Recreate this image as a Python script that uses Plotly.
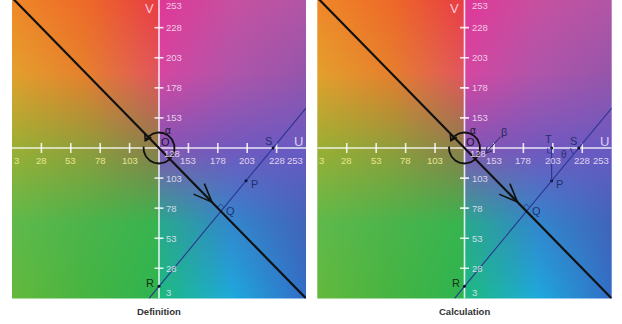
import base64
import struct
import zlib

import numpy as np
import plotly.graph_objects as go

# ---------------- data ----------------
U_RANGE = [3, 253]
V_RANGE = [3, 251]
TICK_VALUES = [3, 28, 53, 78, 103, 128, 153, 178, 203, 228, 253]
TICK_LABELS = ["3", "28", "53", "78", "103", "128", "153", "178", "203", "228", "253"]
ORIGIN = (128, 128)
BLACK_LINE_U = [3, 253]
BLACK_LINE_V = [253, 3]
R_POINT = (128, 13)
S_POINT = (225, 128)
P_U = 202
ARROW_TIP_U = 173
PANEL_TITLES = ["Definition", "Calculation"]

# background colour control grid
GRID_V = [3, 65, 128, 190, 253]
LEFT_U = [3, 65, 128]
RIGHT_U = [128, 190, 253]
LEFT_RGB = [
    [(100, 185, 60), (70, 180, 65), (45, 180, 80)],
    [(95, 185, 75), (75, 180, 75), (55, 180, 80)],
    [(155, 175, 52), (145, 158, 58), (140, 125, 75)],
    [(228, 160, 45), (230, 128, 45), (225, 85, 95)],
    [(240, 135, 40), (238, 105, 40), (232, 60, 68)],
]
RIGHT_RGB = [
    [(30, 185, 125), (30, 170, 220), (50, 110, 200)],
    [(40, 170, 140), (50, 135, 205), (65, 100, 185)],
    [(135, 85, 180), (115, 88, 190), (105, 90, 195)],
    [(215, 70, 160), (175, 85, 170), (150, 85, 170)],
    [(225, 55, 150), (200, 80, 160), (180, 85, 165)],
]

# ---------------- geometry ----------------
FIG_W, FIG_H = 622, 324
PANEL_PX = [(12.0, 306.0), (317.3, 611.7)]
PLOT_BOTTOM_PX = 298.4
PX_U = (PANEL_PX[0][1] - PANEL_PX[0][0]) / (U_RANGE[1] - U_RANGE[0])
PX_V = PLOT_BOTTOM_PX / (V_RANGE[1] - V_RANGE[0])


def off(pt, dx, dy):
    return (pt[0] + dx / PX_U, pt[1] + dy / PX_V)


def arrow_head(tip, d, length, ang_deg):
    d = np.array(d, float)
    d = d / np.hypot(*d)
    b = -d
    pts = []
    for s in (1, -1):
        a = np.radians(ang_deg) * s
        w = (np.cos(a) * b[0] - np.sin(a) * b[1], np.sin(a) * b[0] + np.cos(a) * b[1])
        pts.append(off(tip, length * w[0], length * w[1]))
    return [pts[0][0], tip[0], pts[1][0]], [pts[0][1], tip[1], pts[1][1]]


# derived points
slope_blue = (S_POINT[1] - R_POINT[1]) / (S_POINT[0] - R_POINT[0])
q_u = (256 - R_POINT[1] + slope_blue * R_POINT[0]) / (1 + slope_blue)
Q_POINT = (q_u, 256 - q_u)
P_POINT = (P_U, R_POINT[1] + slope_blue * (P_U - R_POINT[0]))
T_POINT = (P_U, 128)
BLUE_U = [R_POINT[0] - (R_POINT[1] - 3) / slope_blue, 253]
BLUE_V = [3, R_POINT[1] + slope_blue * (253 - R_POINT[0])]

# ---------------- background image (UV colour plane) ----------------
us = np.arange(3, 254)
vs = np.arange(3, 254)


def half(ctrl_u, ctrl_rgb, u_sel):
    ctrl = np.array(ctrl_rgb, float)
    col = np.empty((len(vs), len(ctrl_u), 3))
    for j in range(len(ctrl_u)):
        for c in range(3):
            col[:, j, c] = np.interp(vs, GRID_V, ctrl[:, j, c])
    out = np.empty((len(vs), len(u_sel), 3))
    for i in range(len(vs)):
        for c in range(3):
            out[i, :, c] = np.interp(u_sel, ctrl_u, col[i, :, c])
    return out


img = np.concatenate([half(LEFT_U, LEFT_RGB, us[us < 128]),
                      half(RIGHT_U, RIGHT_RGB, us[us >= 128])], axis=1)
img = np.clip(np.round(img), 0, 255).astype(np.uint8)[::-1]  # top row first


def png_data_uri(arr):
    h, w, _ = arr.shape
    raw = b"".join(b"\x00" + arr[i].tobytes() for i in range(h))

    def chunk(t, d):
        return struct.pack(">I", len(d)) + t + d + struct.pack(">I", zlib.crc32(t + d) & 0xFFFFFFFF)

    data = (b"\x89PNG\r\n\x1a\n"
            + chunk(b"IHDR", struct.pack(">IIBBBBB", w, h, 8, 2, 0, 0, 0))
            + chunk(b"IDAT", zlib.compress(raw, 9))
            + chunk(b"IEND", b""))
    return "data:image/png;base64," + base64.b64encode(data).decode()


BG_SOURCE = png_data_uri(img)

fig = go.Figure()
annotations = []
images = []
DARK = "#151530"
NAVY = "#23306e"
AXIS_WHITE = "rgba(255,255,255,0.85)"

for k in range(2):
    xa = "x" if k == 0 else "x2"
    ya = "y" if k == 0 else "y2"

    def line(u, v, color, width, dash=None):
        fig.add_trace(go.Scatter(x=u, y=v, mode="lines", xaxis=xa, yaxis=ya,
                                 line=dict(color=color, width=width, dash=dash),
                                 hoverinfo="skip", showlegend=False))

    def label(u, v, text, color, size, dx=0, dy=0, xanchor="center"):
        annotations.append(dict(x=u, y=v, xref=xa, yref=ya, text=text,
                                showarrow=False, xanchor=xanchor, yanchor="middle",
                                xshift=dx, yshift=dy,
                                font=dict(family="Liberation Sans, Arial", size=size, color=color)))

    images.append(dict(source=BG_SOURCE, xref=xa, yref=ya, x=2.5, y=253.5,
                       sizex=251, sizey=251, sizing="stretch", xanchor="left", yanchor="top",
                       layer="below"))

    # axes
    line(U_RANGE, [128, 128], AXIS_WHITE, 1.6)
    line([128, 128], [3, 253], AXIS_WHITE, 1.6)
    for t in TICK_VALUES:
        if t in (3, 128, 253):
            continue
        a, b = off((t, 128), 0, -5), off((t, 128), 0, 5)
        line([a[0], b[0]], [a[1], b[1]], AXIS_WHITE, 1.6)
        a, b = off((128, t), -4.5, 0), off((128, t), 4.5, 0)
        line([a[0], b[0]], [a[1], b[1]], AXIS_WHITE, 1.6)

    # tick labels
    for t, lab in zip(TICK_VALUES, TICK_LABELS):
        col = "#e6e68e" if t < 128 else "rgba(255,236,250,0.82)"
        if t == 128:
            label(128, 128, lab, col, 9.5, dx=3, dy=-5, xanchor="left")
        elif t == 3:
            label(3, 128, lab, col, 9.5, dx=0, dy=-12, xanchor="left")
        elif t == 253:
            label(253, 128, lab, col, 9.5, dx=-1, dy=-12, xanchor="right")
        else:
            label(t, 128, lab, col, 9.5, dy=-12)
        vcol = "rgba(255,240,255,0.78)"
        if t == 253:
            label(128, V_RANGE[1], lab, vcol, 9.5, dx=5, dy=-5, xanchor="left")
        elif t == 3:
            label(128, 3, lab, vcol, 9.5, dx=5, dy=6, xanchor="left")
        elif t != 128:
            label(128, t, lab, vcol, 9.5, dx=5, xanchor="left")
    label(247, 128, "U", "rgba(255,225,250,0.85)", 13, dy=7)
    label(119.5, V_RANGE[1], "V", "rgba(255,225,250,0.85)", 13, dy=-8)

    # blue line
    line(BLUE_U, BLUE_V, "#2a3590", 1.1)
    # right-angle marker at Q
    d1 = np.array([-PX_U, PX_V]); d1 /= np.hypot(*d1)
    d2 = np.array([PX_U, slope_blue * PX_V]); d2 /= np.hypot(*d2)
    m1 = off(Q_POINT, 5 * d1[0], 5 * d1[1])
    m2 = off(Q_POINT, 5 * (d1[0] + d2[0]), 5 * (d1[1] + d2[1]))
    m3 = off(Q_POINT, 5 * d2[0], 5 * d2[1])
    line([m1[0], m2[0], m3[0]], [m1[1], m2[1], m3[1]], "#2a3590", 0.8)

    # black line and arrowhead
    line(BLACK_LINE_U, BLACK_LINE_V, "#111111", 2.2)
    tip = (ARROW_TIP_U, 256 - ARROW_TIP_U)
    hu, hv = arrow_head(tip, (PX_U, -PX_V), 20, 22)
    line(hu, hv, "#111111", 1.6)

    # circle arrow around O
    r = 15.5
    tt = np.radians(np.linspace(175, 512, 120))
    line(list(ORIGIN[0] + r * np.cos(tt) / PX_U), list(ORIGIN[1] + r * np.sin(tt) / PX_V), "#111111", 1.8)
    te = tt[-1]
    tip_c = off(ORIGIN, r * np.cos(te), r * np.sin(te))
    hu, hv = arrow_head(tip_c, (-np.sin(te), np.cos(te)), 7, 32)
    line(hu, hv, "#111111", 1.6)

    # points
    pts = [S_POINT, P_POINT, R_POINT] + ([T_POINT] if k == 1 else [])
    fig.add_trace(go.Scatter(x=[p[0] for p in pts], y=[p[1] for p in pts], mode="markers",
                             xaxis=xa, yaxis=ya, marker=dict(size=3, color="#101030"),
                             hoverinfo="skip", showlegend=False))

    # point labels
    label(*ORIGIN, "O", DARK, 11, dx=6, dy=6)
    label(*ORIGIN, "α", DARK, 10, dx=8.5, dy=18)
    label(*S_POINT, "S", NAVY, 11, dx=-5, dy=7)
    label(*P_POINT, "P", NAVY, 11, dx=8, dy=-3)
    label(*Q_POINT, "Q", NAVY, 11, dx=10, dy=0)
    label(*R_POINT, "R", "#173017", 11, dx=-9, dy=3)

    if k == 1:
        # T and perpendicular
        line([T_POINT[0], P_POINT[0]], [T_POINT[1], P_POINT[1]], "#2a3590", 1.1)
        a = off(T_POINT, -4, 0); b = off(T_POINT, -4, -5); c = off(T_POINT, 0, -5)
        line([a[0], b[0], c[0]], [a[1], b[1], c[1]], "#2a3590", 0.8)
        label(*T_POINT, "T", NAVY, 11, dx=-3, dy=9)
        # theta arc at S
        ang_blue = np.degrees(np.arctan2(-slope_blue * PX_V, -PX_U)) % 360
        ta = np.radians(np.linspace(180, ang_blue, 20))
        line(list(S_POINT[0] + 8 * np.cos(ta) / PX_U), list(S_POINT[1] + 8 * np.sin(ta) / PX_V), "#2a3590", 1.0)
        label(*S_POINT, "θ", NAVY, 10, dx=-15, dy=-6)
        # beta arrow
        b0 = off(ORIGIN, 36, 11.3)
        b1 = off(ORIGIN, 21, -5.3)
        line([b0[0], b1[0]], [b0[1], b1[1]], "#22285a", 1.0)
        hu, hv = arrow_head(b1, (-15, -16.6), 7, 28)
        line(hu, hv, "#22285a", 1.0)
        label(*ORIGIN, "β", "#22285a", 11, dx=39, dy=16.5)

    # panel title
    annotations.append(dict(x=128, y=(FIG_H - 311) / FIG_H, xref=xa, yref="paper",
                            text="<b>%s</b>" % PANEL_TITLES[k], showarrow=False,
                            xanchor="center", yanchor="middle",
                            font=dict(family="Liberation Sans, Arial", size=9.5, color="#333333")))

y_dom = [(FIG_H - PLOT_BOTTOM_PX) / FIG_H, 1.0]
axis_common = dict(visible=False, showgrid=False, zeroline=False, fixedrange=True)
fig.update_layout(
    width=FIG_W, height=FIG_H,
    margin=dict(l=0, r=0, t=0, b=0),
    paper_bgcolor="white", plot_bgcolor="white",
    showlegend=False,
    annotations=annotations,
    images=images,
    xaxis=dict(domain=[PANEL_PX[0][0] / FIG_W, PANEL_PX[0][1] / FIG_W], range=U_RANGE,
               autorange=False, anchor="y", **axis_common),
    yaxis=dict(domain=y_dom, range=V_RANGE, autorange=False, anchor="x", **axis_common),
    xaxis2=dict(domain=[PANEL_PX[1][0] / FIG_W, PANEL_PX[1][1] / FIG_W], range=U_RANGE,
                autorange=False, anchor="y2", **axis_common),
    yaxis2=dict(domain=y_dom, range=V_RANGE, autorange=False, anchor="x2", **axis_common),
)

fig.write_html("out.html", config={"displayModeBar": False},
               post_script="document.body.style.margin='0';document.body.style.padding='0';")
